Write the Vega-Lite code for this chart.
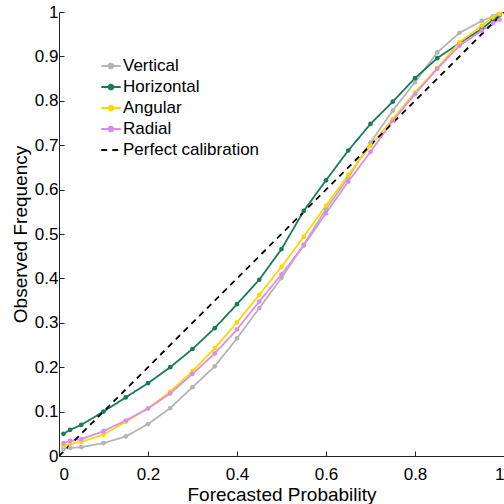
{
  "$schema": "https://vega.github.io/schema/vega-lite/v6.json",
  "width": 445,
  "height": 444,
  "autosize": {"type": "none"},
  "padding": {"left": 59, "top": 12, "right": 0, "bottom": 48},
  "config": {
    "font": "Liberation Sans",
    "view": {"stroke": null},
    "axis": {"grid": false, "domainColor": "#222222", "tickColor": "#222222", "labelColor": "#000000", "titleColor": "#000000", "labelFont": "Liberation Sans", "titleFont": "Liberation Sans", "titleFontWeight": "normal", "labelFontSize": 17, "titleFontSize": 19, "tickSize": -5}
  },
  "data": {
    "values": [
      {"series": "Vertical", "x": 0.01, "y": 0.016},
      {"series": "Vertical", "x": 0.025, "y": 0.018},
      {"series": "Vertical", "x": 0.05, "y": 0.020},
      {"series": "Vertical", "x": 0.1, "y": 0.029},
      {"series": "Vertical", "x": 0.15, "y": 0.044},
      {"series": "Vertical", "x": 0.2, "y": 0.072},
      {"series": "Vertical", "x": 0.25, "y": 0.108},
      {"series": "Vertical", "x": 0.3, "y": 0.155},
      {"series": "Vertical", "x": 0.35, "y": 0.202},
      {"series": "Vertical", "x": 0.4, "y": 0.265},
      {"series": "Vertical", "x": 0.45, "y": 0.333},
      {"series": "Vertical", "x": 0.5, "y": 0.401},
      {"series": "Vertical", "x": 0.55, "y": 0.476},
      {"series": "Vertical", "x": 0.6, "y": 0.556},
      {"series": "Vertical", "x": 0.65, "y": 0.627},
      {"series": "Vertical", "x": 0.7, "y": 0.706},
      {"series": "Vertical", "x": 0.75, "y": 0.778},
      {"series": "Vertical", "x": 0.8, "y": 0.842},
      {"series": "Vertical", "x": 0.85, "y": 0.909},
      {"series": "Vertical", "x": 0.9, "y": 0.953},
      {"series": "Vertical", "x": 0.95, "y": 0.980},
      {"series": "Vertical", "x": 0.975, "y": 0.990},
      {"series": "Vertical", "x": 0.99, "y": 0.998},
      {"series": "Horizontal", "x": 0.01, "y": 0.050},
      {"series": "Horizontal", "x": 0.025, "y": 0.059},
      {"series": "Horizontal", "x": 0.05, "y": 0.070},
      {"series": "Horizontal", "x": 0.1, "y": 0.100},
      {"series": "Horizontal", "x": 0.15, "y": 0.132},
      {"series": "Horizontal", "x": 0.2, "y": 0.164},
      {"series": "Horizontal", "x": 0.25, "y": 0.200},
      {"series": "Horizontal", "x": 0.3, "y": 0.241},
      {"series": "Horizontal", "x": 0.35, "y": 0.288},
      {"series": "Horizontal", "x": 0.4, "y": 0.342},
      {"series": "Horizontal", "x": 0.45, "y": 0.397},
      {"series": "Horizontal", "x": 0.5, "y": 0.466},
      {"series": "Horizontal", "x": 0.55, "y": 0.552},
      {"series": "Horizontal", "x": 0.6, "y": 0.621},
      {"series": "Horizontal", "x": 0.65, "y": 0.688},
      {"series": "Horizontal", "x": 0.7, "y": 0.748},
      {"series": "Horizontal", "x": 0.75, "y": 0.798},
      {"series": "Horizontal", "x": 0.8, "y": 0.851},
      {"series": "Horizontal", "x": 0.85, "y": 0.896},
      {"series": "Horizontal", "x": 0.9, "y": 0.930},
      {"series": "Horizontal", "x": 0.95, "y": 0.962},
      {"series": "Horizontal", "x": 0.975, "y": 0.982},
      {"series": "Horizontal", "x": 0.99, "y": 0.993},
      {"series": "Angular", "x": 0.01, "y": 0.023},
      {"series": "Angular", "x": 0.025, "y": 0.027},
      {"series": "Angular", "x": 0.05, "y": 0.032},
      {"series": "Angular", "x": 0.1, "y": 0.048},
      {"series": "Angular", "x": 0.15, "y": 0.077},
      {"series": "Angular", "x": 0.2, "y": 0.107},
      {"series": "Angular", "x": 0.25, "y": 0.145},
      {"series": "Angular", "x": 0.3, "y": 0.191},
      {"series": "Angular", "x": 0.35, "y": 0.243},
      {"series": "Angular", "x": 0.4, "y": 0.301},
      {"series": "Angular", "x": 0.45, "y": 0.363},
      {"series": "Angular", "x": 0.5, "y": 0.426},
      {"series": "Angular", "x": 0.55, "y": 0.494},
      {"series": "Angular", "x": 0.6, "y": 0.564},
      {"series": "Angular", "x": 0.65, "y": 0.633},
      {"series": "Angular", "x": 0.7, "y": 0.699},
      {"series": "Angular", "x": 0.75, "y": 0.759},
      {"series": "Angular", "x": 0.8, "y": 0.819},
      {"series": "Angular", "x": 0.85, "y": 0.874},
      {"series": "Angular", "x": 0.9, "y": 0.932},
      {"series": "Angular", "x": 0.95, "y": 0.969},
      {"series": "Angular", "x": 0.975, "y": 0.988},
      {"series": "Angular", "x": 0.99, "y": 0.995},
      {"series": "Radial", "x": 0.01, "y": 0.029},
      {"series": "Radial", "x": 0.025, "y": 0.034},
      {"series": "Radial", "x": 0.05, "y": 0.038},
      {"series": "Radial", "x": 0.1, "y": 0.056},
      {"series": "Radial", "x": 0.15, "y": 0.080},
      {"series": "Radial", "x": 0.2, "y": 0.107},
      {"series": "Radial", "x": 0.25, "y": 0.141},
      {"series": "Radial", "x": 0.3, "y": 0.185},
      {"series": "Radial", "x": 0.35, "y": 0.231},
      {"series": "Radial", "x": 0.4, "y": 0.285},
      {"series": "Radial", "x": 0.45, "y": 0.348},
      {"series": "Radial", "x": 0.5, "y": 0.409},
      {"series": "Radial", "x": 0.55, "y": 0.474},
      {"series": "Radial", "x": 0.6, "y": 0.547},
      {"series": "Radial", "x": 0.65, "y": 0.618},
      {"series": "Radial", "x": 0.7, "y": 0.685},
      {"series": "Radial", "x": 0.75, "y": 0.755},
      {"series": "Radial", "x": 0.8, "y": 0.815},
      {"series": "Radial", "x": 0.85, "y": 0.872},
      {"series": "Radial", "x": 0.9, "y": 0.924},
      {"series": "Radial", "x": 0.95, "y": 0.958},
      {"series": "Radial", "x": 0.975, "y": 0.975},
      {"series": "Radial", "x": 0.99, "y": 0.983},
      {"series": "Perfect calibration", "x": 0, "y": 0},
      {"series": "Perfect calibration", "x": 1, "y": 1}
    ]
  },
  "encoding": {
    "x": {"field": "x", "type": "quantitative", "scale": {"domain": [0, 1], "nice": false}, "axis": {"title": "Forecasted Probability", "values": [0, 0.2, 0.4, 0.6, 0.8, 1], "format": "~g", "labelPadding": 15, "titlePadding": 3}},
    "y": {"field": "y", "type": "quantitative", "scale": {"domain": [0, 1], "nice": false}, "axis": {"title": "Observed Frequency", "values": [0, 0.1, 0.2, 0.3, 0.4, 0.5, 0.6, 0.7, 0.8, 0.9, 1], "format": "~g", "labelPadding": 6, "titlePadding": 4}}
  },
  "layer": [
    {
      "mark": {"type": "line", "clip": true},
      "encoding": {
        "color": {
          "field": "series", "type": "nominal",
          "scale": {"domain": ["Vertical", "Horizontal", "Angular", "Radial", "Perfect calibration"], "range": ["#b4b4b4", "#1a7a5e", "#ffd700", "#dc8cf0", "#000000"]},
          "legend": {
            "orient": "none", "legendX": 41, "legendY": 43, "title": null, "padding": 0,
            "labelFont": "Liberation Sans", "labelFontSize": 17, "labelColor": "#000000", "labelOffset": 1, "rowPadding": 2,
            "symbolSize": 380, "symbolStrokeWidth": 1.8,
            "symbolType": "M-1,0L1,0M-0.25,0A0.25,0.25,0,1,1,0.25,0A0.25,0.25,0,1,1,-0.25,0Z",
            "encode": {
              "symbols": {
                "update": {
                  "shape": {"signal": "datum.value === 'Perfect calibration' ? 'M-1,0L1,0' : 'M-1,0L1,0M-0.25,0A0.25,0.25,0,1,1,0.25,0A0.25,0.25,0,1,1,-0.25,0Z'"},
                  "fill": {"signal": "datum.value === 'Perfect calibration' ? 'transparent' : scale('color', datum.value)"},
                  "strokeWidth": {"signal": "datum.value === 'Perfect calibration' ? 1 : 1.8"}
                }
              }
            }
          }
        },
        "strokeDash": {
          "field": "series", "type": "nominal",
          "scale": {"domain": ["Vertical", "Horizontal", "Angular", "Radial", "Perfect calibration"], "range": [[1, 0], [1, 0], [1, 0], [1, 0], [6, 5]]},
          "legend": null
        },
        "strokeWidth": {
          "field": "series", "type": "nominal",
          "scale": {"domain": ["Vertical", "Horizontal", "Angular", "Radial", "Perfect calibration"], "range": [1.8, 1.8, 1.8, 1.8, 1]},
          "legend": null
        }
      }
    },
    {
      "transform": [{"filter": "datum.series !== 'Perfect calibration'"}],
      "mark": {"type": "point", "filled": true, "opacity": 1, "size": 22, "clip": true},
      "encoding": {
        "color": {"field": "series", "type": "nominal", "legend": null}
      }
    }
  ]
}
